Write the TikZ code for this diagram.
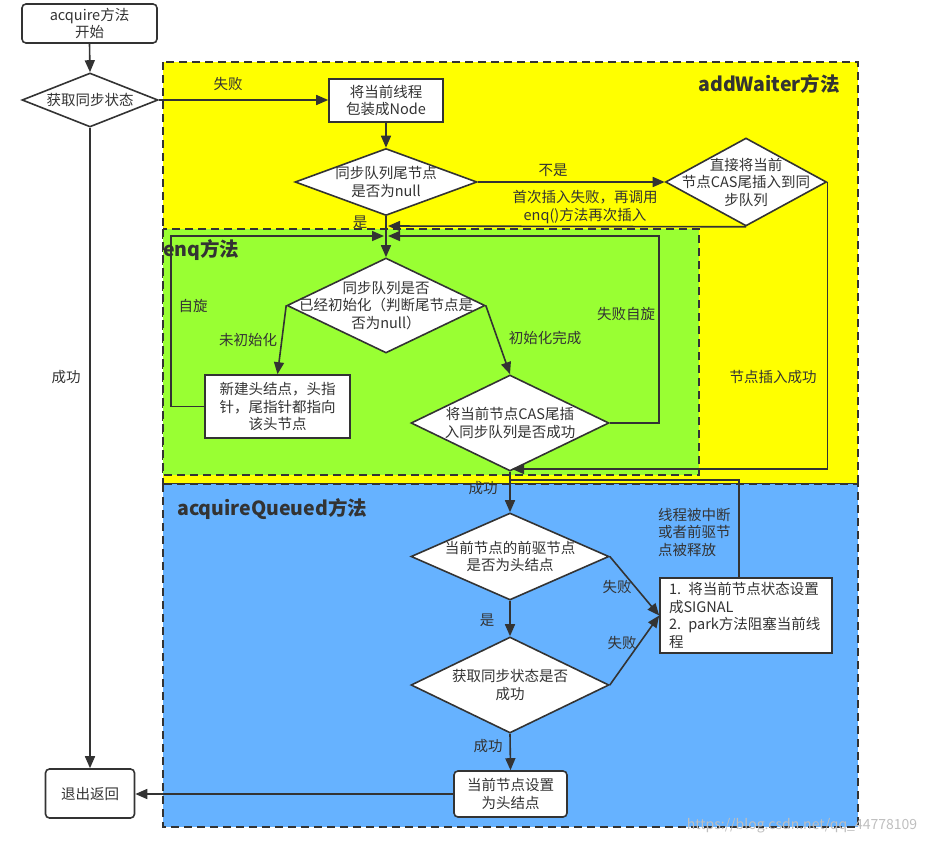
\documentclass[tikz,border=0pt]{standalone}
\usepackage{fontspec}
\setmainfont{Noto Sans CJK SC}
\usetikzlibrary{shapes.geometric,arrows.meta}
\definecolor{ylw}{HTML}{FFFF00}
\definecolor{grn}{HTML}{99FF33}
\definecolor{blu}{HTML}{66B2FF}
\definecolor{ink}{HTML}{333333}
\tikzset{
  txt/.style={font=\fontsize{14.5}{17.5}\selectfont, text=ink, align=center, inner sep=0pt},
  lbl/.style={txt},
  ttl/.style={font=\fontsize{19.5}{21}\selectfont\bfseries, text=ink, inner sep=0pt},
  dia/.style 2 args={diamond, draw=ink, fill=white, line width=1.6pt, minimum width=#1, minimum height=#2, inner sep=0pt},
  box/.style 2 args={rectangle, draw=ink, fill=white, line width=1.6pt, minimum width=#1, minimum height=#2, inner sep=0pt, txt},
  rbox/.style 2 args={box={#1}{#2}, rounded corners=4pt},
  arr/.style={draw=ink, line width=1.6pt, -{Triangle[length=12pt,width=10pt]}},
  ln/.style={draw=ink, line width=1.6pt},
  region/.style={draw=ink, line width=1.8pt, dash pattern=on 8pt off 5pt}
}
\begin{document}
\begin{tikzpicture}[x=1pt,y=-1pt]
\useasboundingbox (0,0) rectangle (934,843);
% regions
\fill[ylw] (163,62) rectangle (858,484);
\draw[region] (163,62) rectangle (858,484);
\fill[grn] (163,229) rectangle (699,475);
\draw[region] (163,229) rectangle (699,475);
\fill[blu] (163,484) rectangle (858,827);
\draw[region] (163,484) rectangle (858,827);
\node[ttl, anchor=east] (t1) at (840,84) {addWaiter方法};
\node[ttl, anchor=west] (t2) at (163,250) {enq方法};
\node[ttl, anchor=west] (t3) at (177,509) {acquireQueued方法};

% nodes
\node[rbox={135}{39}] (start) at (89.5,23.5) {acquire方法\\开始};
\node[dia={136}{54}, label={[txt]center:获取同步状态}] (get) at (90,100) {};
\node[box={114}{43}] (wrap) at (386,100.5) {将当前线程\\包装成Node};
\node[dia={182}{67}, label={[txt]center:{同步队列尾节点\\是否为null}}] (null) at (386,182) {};
\node[dia={161}{88}, label={[txt]center:{直接将当前\\节点CAS尾插入到同\\步队列}}] (direct) at (746,182) {};
\node[dia={198}{95}, label={[txt]center:{同步队列是否\\已经初始化（判断尾节点是\\否为null）}}] (init) at (386,305.5) {};
\node[box={145}{63}] (newhead) at (277.5,406.5) {新建头结点，头指\\针，尾指针都指向\\该头节点};
\node[dia={198}{96}, label={[txt]center:{将当前节点CAS尾插\\入同步队列是否成功}}] (cas) at (510,423) {};
\node[dia={198}{87}, label={[txt]center:{当前节点的前驱节点\\是否为头结点}}] (pred) at (510,556.5) {};
\node[box={172}{75}, align=left, text width=154pt] (park) at (746,615.5) {1. 将当前节点状态设置\\成SIGNAL\\2. park方法阻塞当前线\\程};
\node[dia={198}{96}, label={[txt]center:{获取同步状态是否\\成功}}] (acq) at (510,685) {};
\node[rbox={113}{46}] (sethead) at (510.5,794) {当前节点设置\\为头结点};
\node[rbox={89}{49}] (exit) at (90,793.5) {退出返回};

% junction coordinates
\coordinate (ju) at (388,226);
\coordinate (jl) at (384,236);
\coordinate (jr) at (388,236);
\coordinate (jc) at (512,469);
\coordinate (jb) at (510,480);
\coordinate (pk) at (739,578);

% connectors
\draw[arr] (start.south) -- (get.north);
\draw[arr] (get.east) -- (get.east -| wrap.west);
\draw[arr] (wrap.south) -- (null.north);
\draw[arr] (null.east) -- (direct.west);
\draw[arr] (direct.south) -- (ju);
\draw[arr] (null.south) -- (init.north);
\draw[arr] (newhead.west) -- ++(-33,0) |- (jl);
\draw[arr] (cas.east) -- ++(49,0) |- (jr);
\draw[arr] (init.west) -- (newhead.north);
\draw[arr] (init.east) -- (cas.north);
\draw[arr] (cas.south) -- (pred.north);
\draw[arr] (direct.east) |- (jc);
\draw[ln] (pk) |- (jb);
\draw[arr] (pred.east) -- (park.west);
\draw[arr] (pred.south) -- (acq.north);
\draw[arr] (acq.east) -- (park.west);
\draw[arr] (acq.south) -- (sethead.north);
\draw[arr] (sethead.west) -- (sethead.west -| exit.east);
\draw[arr] (get.south) -- (exit.north);

% connector labels
\node[lbl] (l1) at (228,84) {失败};
\node[lbl] (l2) at (553,170) {不是};
\node[lbl] (l3) at (585,207) {首次插入失败，再调用\\enq()方法再次插入};
\node[lbl] (l4) at (360,222) {是};
\node[lbl] (l5) at (193,306) {自旋};
\node[lbl] (l6) at (248,340) {未初始化};
\node[lbl] (l7) at (545,338) {初始化完成};
\node[lbl] (l8) at (626,314) {失败自旋};
\node[lbl] (l9) at (773,377) {节点插入成功};
\node[lbl] (l10) at (66,377) {成功};
\node[lbl] (l11) at (483,488) {成功};
\node[lbl, align=left, anchor=west] (l12) at (658,532) {线程被中断\\或者前驱节\\点被释放};
\node[lbl] (l13) at (617,587) {失败};
\node[lbl] (l14) at (487,620) {是};
\node[lbl] (l15) at (622,643) {失败};
\node[lbl] (l16) at (488,746) {成功};
\node[font=\fontsize{14}{14}\selectfont, text=black!25, inner sep=0pt] (wm) at (802,826) {https://blog.csdn.net/qq\_44778109};
\end{tikzpicture}
\end{document}
